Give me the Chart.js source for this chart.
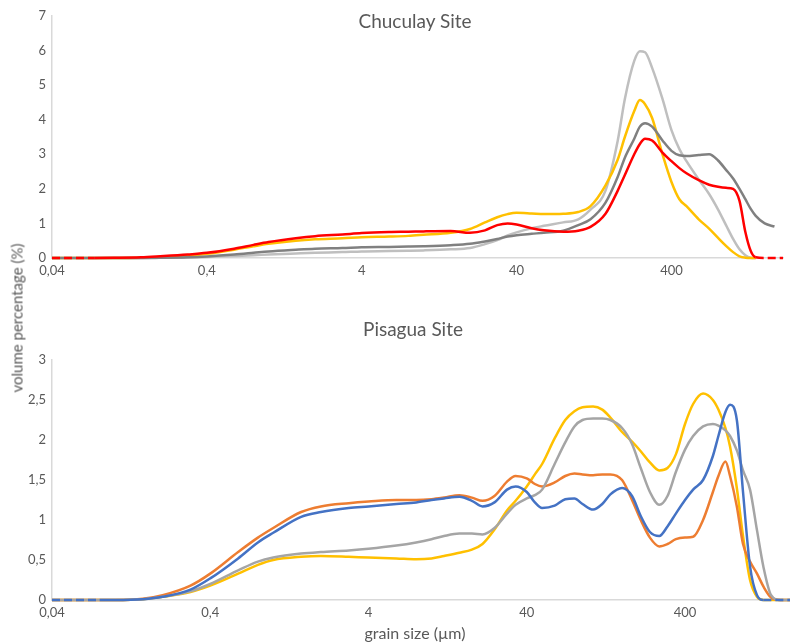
<!DOCTYPE html>
<html><head><meta charset="utf-8">
<script src="https://cdn.jsdelivr.net/npm/chart.js@4.4.1/dist/chart.umd.min.js"></script>
<style>
html,body{margin:0;padding:0;background:#fff;width:790px;height:644px;overflow:hidden;position:relative;font-family:Lato,"Liberation Sans",sans-serif;color:#595959}
#c1{position:absolute;left:0;top:0}
#c2{position:absolute;left:0;top:290px}
.t{position:absolute;white-space:nowrap;transform:translate(-50%,-50%);line-height:1;font-weight:400}
</style></head><body>
<canvas id="c1" width="790" height="290"></canvas>
<canvas id="c2" width="810" height="354"></canvas>
<div class="t" style="left:415px;top:20px;font-size:19px">Chuculay Site</div>
<div class="t" style="left:413px;top:328px;font-size:19px">Pisagua Site</div>
<div class="t" style="left:17px;top:318px;font-size:15px;transform:translate(-50%,-50%) rotate(-90deg)">volume percentage (%)</div>
<div class="t" style="left:415px;top:633px;font-size:16px">grain size (µm)</div>
<script>
// ---- tick labels ----
const xTickValues = [0.04, 0.4, 4, 40, 400];
const chuculayYTicks = [0, 1, 2, 3, 4, 5, 6, 7];
const pisaguaYTicks = [0, 0.5, 1, 1.5, 2, 2.5, 3];

// ---- Chuculay Site ----
const chuculaySizes = [0.04, 0.075, 0.1, 0.15, 0.2, 0.3, 0.4, 0.6, 0.8, 1, 1.5, 2, 3, 4, 6, 8, 10, 15, 20, 25, 30, 35, 40, 50, 60, 80, 100, 120, 150, 180, 200, 230, 250, 270, 300, 350, 400, 450, 500, 600, 700, 800, 900, 1000, 1100, 1200, 1300, 1400, 1600, 1850, 2100];
const chuculayRed = [0,0,0.005,0.02,0.05,0.1,0.15,0.27,0.38,0.46, 0.57,0.63,0.68,0.72,0.75,0.76,0.77,0.78,0.73,0.8, 0.95,1.0,0.97,0.86,0.8,0.76,0.79,0.9,1.28,1.95, 2.4,3.0,3.3,3.45,3.4,3.05,2.8,2.6,2.45,2.25, 2.12,2.06,2.03,2.0,1.65,0.75,0.2,0.02,0,0, 0];
const chuculayDarkGray = [0,0,0,0,0.005,0.02,0.045,0.1,0.15,0.19, 0.24,0.27,0.29,0.31,0.32,0.33,0.34,0.37,0.41,0.48, 0.55,0.62,0.66,0.7,0.73,0.79,0.95,1.12,1.6,2.35, 2.9,3.45,3.8,3.9,3.8,3.4,3.1,2.97,2.95,2.98, 3.0,2.82,2.55,2.3,2.0,1.7,1.42,1.22,1.0,0.91, null];
const chuculayYellow = [0,0,0,0.005,0.02,0.06,0.12,0.24,0.34,0.41, 0.5,0.54,0.57,0.6,0.62,0.64,0.67,0.73,0.84,1.03, 1.18,1.27,1.31,1.29,1.27,1.28,1.33,1.5,2.1,2.85, 3.5,4.25,4.57,4.45,4.05,3.0,2.2,1.7,1.5,1.12, 0.85,0.58,0.35,0.17,0.05,0.01,0,0,null,null, null];
const chuculayLightGray = [0,0,0,0,0.005,0.015,0.03,0.06,0.08,0.1, 0.13,0.15,0.17,0.19,0.2,0.21,0.22,0.25,0.29,0.4, 0.52,0.65,0.74,0.86,0.93,1.03,1.12,1.4,1.95,3.4, 4.6,5.7,5.98,5.95,5.5,4.6,3.7,3.15,2.8,2.27, 1.85,1.4,0.95,0.55,0.25,0.08,0.01,0,null,null, null];

// ---- Pisagua Site ----
const pisaguaSizes = [0.04, 0.08, 0.1, 0.15, 0.2, 0.3, 0.4, 0.6, 0.8, 1, 1.5, 2, 3, 4, 6, 8, 10, 12, 15, 18, 21, 25, 30, 34, 40, 45, 50, 60, 70, 80, 90, 105, 120, 135, 160, 185, 210, 240, 275, 310, 350, 400, 450, 520, 600, 650, 720, 770, 850, 930, 1030, 1140, 1250, 1400, 1600, 2100];
const pisaguaBlue = [0,0,0,0.01,0.04,0.13,0.27,0.52,0.72,0.84, 1.04,1.1,1.15,1.17,1.2,1.22,1.25,1.27,1.29,1.24, 1.17,1.22,1.38,1.42,1.35,1.22,1.15,1.18,1.26,1.27, 1.2,1.13,1.2,1.32,1.4,1.3,1.05,0.85,0.8,0.92, 1.08,1.25,1.38,1.5,1.8,2.05,2.35,2.44,2.25,1.35, 0.42,0.06,0,0,0,0];
const pisaguaGray = [0,0,0,0.01,0.04,0.11,0.2,0.37,0.48,0.53, 0.58,0.6,0.62,0.64,0.68,0.72,0.76,0.8,0.83,0.83, 0.82,0.9,1.08,1.19,1.27,1.31,1.38,1.7,1.97,2.17, 2.25,2.27,2.27,2.25,2.15,1.95,1.65,1.35,1.19,1.3, 1.6,1.88,2.05,2.17,2.2,2.18,2.12,2.05,1.87,1.62, 1.38,0.87,0.42,0.06,0,0];
const pisaguaOrange = [0,0,0,0.015,0.06,0.18,0.33,0.6,0.78,0.9, 1.1,1.17,1.21,1.23,1.25,1.25,1.26,1.28,1.31,1.28, 1.24,1.3,1.48,1.55,1.52,1.45,1.42,1.47,1.55,1.58, 1.57,1.56,1.57,1.57,1.5,1.25,1.0,0.78,0.67,0.7, 0.76,0.78,0.79,1.0,1.35,1.55,1.73,1.55,1.17,0.7, 0.48,0.33,0.17,0.03,0,0];
const pisaguaYellow = [0,0,0,0.01,0.04,0.1,0.18,0.33,0.44,0.5, 0.54,0.55,0.54,0.53,0.52,0.51,0.52,0.55,0.59,0.63, 0.7,0.88,1.12,1.24,1.42,1.57,1.7,2.02,2.25,2.36, 2.41,2.42,2.38,2.28,2.1,1.98,1.86,1.72,1.62,1.65, 1.82,2.2,2.45,2.58,2.5,2.38,2.15,1.92,1.4,0.8, 0.25,0.04,0,0,0,0];

const TXT = '#595959';
const AXIS = '#d9d9d9';
const fmt = v => String(v).replace('.', ',');

function series(sizes, vals, color, order, dashed) {
  const ds = {
    data: sizes.map((x, i) => ({x: x, y: vals[i]})),
    borderColor: color, backgroundColor: color, borderWidth: 2.5,
    pointRadius: 0, fill: false, order: order,
    cubicInterpolationMode: 'monotone', spanGaps: false,
    clip: {left: 4, top: 4, right: 4, bottom: 4}
  };
  if (dashed) {
    ds.segment = { borderDash: c => (c.p0.parsed.x < dashed[0] || c.p0.parsed.x >= dashed[1]) ? [8, 4] : undefined };
  }
  return ds;
}

function makeChart(id, datasets, yTicks, pad, xHeight) {
  const yMax = yTicks[yTicks.length - 1];
  return new Chart(document.getElementById(id), {
    type: 'line',
    data: { datasets: datasets },
    options: {
      responsive: false, animation: false, devicePixelRatio: 1,
      layout: { padding: pad },
      plugins: { legend: { display: false }, tooltip: { enabled: false }, title: { display: false } },
      scales: {
        x: {
          type: 'logarithmic', min: 0.04, max: 2100,
          grid: { color: 'rgba(0,0,0,0)', drawTicks: false },
          border: { display: true, color: AXIS, width: 1.5 },
          afterBuildTicks: s => { s.ticks = xTickValues.map(v => ({value: v})); },
          afterFit: s => { s.height = xHeight; },
          ticks: { color: TXT, font: { size: 13 }, padding: 5, autoSkip: false, maxRotation: 0, callback: v => fmt(v) }
        },
        y: {
          min: 0, max: yMax,
          grid: { color: 'rgba(0,0,0,0)', drawTicks: false },
          border: { display: true, color: AXIS, width: 1.5 },
          afterBuildTicks: s => { s.ticks = yTicks.map(v => ({value: v})); },
          afterFit: s => { s.width = 52; },
          ticks: { color: TXT, font: { size: 13 }, padding: 6, callback: v => fmt(v) }
        }
      }
    }
  });
}

Chart.defaults.font.family = 'Lato, "Liberation Sans", sans-serif';

makeChart('c1', [
  series(chuculaySizes, chuculayRed, '#FF0000', 0, [0.07, 1400]),
  series(chuculaySizes, chuculayDarkGray, '#808080', 1),
  series(chuculaySizes, chuculayYellow, '#FFC000', 2),
  series(chuculaySizes, chuculayLightGray, '#BFBFBF', 3)
], chuculayYTicks, {top: 16, right: 7, bottom: 0, left: 0}, 32);

makeChart('c2', [
  series(pisaguaSizes, pisaguaBlue, '#4472C4', 0, [0.07, 1250]),
  series(pisaguaSizes, pisaguaGray, '#A5A5A5', 1),
  series(pisaguaSizes, pisaguaOrange, '#ED7D31', 2),
  series(pisaguaSizes, pisaguaYellow, '#FFC000', 3)
], pisaguaYTicks, {top: 70, right: 11, bottom: 0, left: 0}, 44);
</script>
</body></html>
